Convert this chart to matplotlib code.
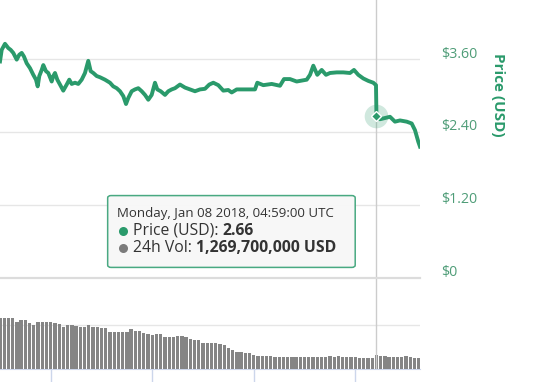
import matplotlib
matplotlib.use("Agg")
import matplotlib.pyplot as plt
from matplotlib.patches import FancyBboxPatch
from matplotlib.lines import Line2D
from matplotlib.transforms import ScaledTranslation

plt.rcParams["font.family"] = ["Open Sans", "DejaVu Sans"]

GREEN = "#2a9a6b"
TICK_GREEN = "#4f9d78"

# hours since Jan 04 2018 12:00 UTC
price_hours = [0.00, 0.40, 1.18, 1.96, 2.53, 3.14, 3.95, 4.56, 5.13, 5.67,
               6.31, 7.09, 7.87, 8.51, 8.91, 9.29, 9.86, 10.24, 10.87, 11.42,
               12.22, 12.60, 13.00, 13.55, 14.18, 14.96, 15.77, 16.38, 16.95, 17.73,
               18.51, 19.31, 20.09, 20.87, 21.44, 22.06, 22.86, 23.64, 24.82, 26.00,
               26.78, 27.59, 28.37, 29.15, 29.79, 30.33, 31.13, 31.91, 32.70, 33.50,
               34.28, 35.06, 35.86, 36.64, 37.19, 37.99, 39.01, 39.79, 40.59, 41.37,
               42.55, 43.74, 44.92, 46.10, 47.28, 48.46, 49.48, 50.43, 51.61, 52.79,
               53.97, 54.78, 55.96, 57.52, 59.10, 60.28, 60.83, 62.25, 64.23, 66.19,
               67.14, 68.56, 70.14, 72.51, 73.29, 74.07, 75.01, 76.05, 77.07, 78.01,
               79.60, 81.16, 82.74, 83.69, 84.70, 85.89, 87.07, 88.25, 88.89, 89.00,
               89.83, 91.02, 92.20, 93.38, 94.56, 96.15, 97.33, 98.11, 98.89, 99.29]
price_usd = [3.56, 3.75, 3.85, 3.78, 3.75, 3.70, 3.59, 3.67, 3.70, 3.64,
             3.53, 3.45, 3.34, 3.26, 3.15, 3.32, 3.42, 3.50, 3.40, 3.37,
             3.23, 3.32, 3.37, 3.26, 3.18, 3.08, 3.18, 3.26, 3.19, 3.21,
             3.19, 3.26, 3.37, 3.57, 3.40, 3.37, 3.32, 3.30, 3.26, 3.21,
             3.15, 3.12, 3.07, 2.99, 2.86, 2.96, 3.07, 3.10, 3.12, 3.07,
             3.01, 2.93, 3.01, 3.21, 3.10, 3.07, 3.01, 3.07, 3.10, 3.12,
             3.18, 3.13, 3.10, 3.07, 3.10, 3.11, 3.18, 3.21, 3.17, 3.08,
             3.09, 3.05, 3.10, 3.10, 3.10, 3.10, 3.21, 3.17, 3.19, 3.16,
             3.27, 3.27, 3.23, 3.26, 3.34, 3.49, 3.34, 3.42, 3.34, 3.37,
             3.38, 3.38, 3.37, 3.42, 3.34, 3.28, 3.24, 3.21, 3.17, 2.66,
             2.61, 2.63, 2.65, 2.57, 2.59, 2.57, 2.54, 2.43, 2.24, 2.16]

# hourly 24h volume, billions USD (bar at each hour 0..99)
vol_hours = list(range(100))
vol_bn = [4.66, 4.66, 4.66, 4.66, 4.30, 4.45, 4.45, 4.18, 4.00, 4.25,
          4.25, 4.25, 4.25, 4.18, 4.09, 3.85, 4.00, 4.00, 3.91, 3.85,
          3.85, 4.00, 3.85, 3.85, 3.70, 3.70, 3.39, 3.39, 3.39, 3.39,
          3.39, 3.61, 3.45, 3.45, 3.25, 3.20, 3.09, 3.18, 3.18, 2.88,
          2.88, 2.88, 3.00, 3.00, 2.88, 2.75, 2.64, 2.64, 2.34, 2.34,
          2.34, 2.34, 2.25, 2.18, 1.88, 1.75, 1.57, 1.57, 1.43, 1.43,
          1.27, 1.18, 1.18, 1.18, 1.15, 1.06, 1.06, 1.06, 1.06, 1.06,
          1.06, 1.06, 1.06, 1.09, 1.12, 1.06, 1.09, 1.12, 1.15, 1.12,
          1.15, 1.12, 1.12, 1.06, 1.06, 1.03, 0.97, 0.97, 0.97, 1.27,
          1.18, 1.18, 1.12, 1.12, 1.12, 1.12, 1.18, 1.12, 1.03, 1.03]

price_ticks = [0, 1.2, 2.4, 3.6]
price_tick_labels = [r"\$0", r"\$1.20", r"\$2.40", r"\$3.60"]
day_ticks = [12, 36, 60, 84]

hover_hour = 89.0
hover_price = 2.66
hover_date = "Monday, Jan 08 2018, 04:59:00 UTC"
hover_vol = "1,269,700,000 USD"

fig = plt.figure(figsize=(5.55, 3.82), dpi=100)
ax = fig.add_axes([0, 0.2723, 0.7568, 0.7277])
axv = fig.add_axes([0, 0.034, 0.7568, 0.22])

# --- price pane ---
ax.plot(price_hours, price_usd, color=GREEN, lw=2.8, solid_joinstyle="round", zorder=3)
ax.set_xlim(0, 99.3)
ax.set_ylim(0, 4.57)
ax.set_yticks(price_ticks)
ax.set_yticklabels(price_tick_labels)
ax.yaxis.tick_right()
ax.tick_params(axis="y", length=0, pad=15, labelsize=10.3, labelcolor=TICK_GREEN)
for lab in ax.get_yticklabels():
    lab.set_transform(lab.get_transform() + ScaledTranslation(0, 0.07, fig.dpi_scale_trans))
ax.set_xticks([])
ax.grid(axis="y", color="#e6e6e6", lw=1)
for s in ["top", "left", "right"]:
    ax.spines[s].set_visible(False)
ax.spines["bottom"].set_color("#dcdcdc")
ax.spines["bottom"].set_linewidth(1.6)
ax.text(1.186, 0.658, "Price (USD)", transform=ax.transAxes, rotation=270,
        ha="center", va="center", fontsize=11, fontweight="bold", color=GREEN)

# crosshair + hover marker
ax.axvline(hover_hour, ymin=-0.03, ymax=1, color="#cccccc", lw=1, clip_on=False, zorder=2)
ax.plot([hover_hour], [hover_price], "o", ms=17, color=GREEN, alpha=0.22, mec="none", zorder=4)
ax.plot([hover_hour], [hover_price], "D", ms=5.5, color=GREEN, mec="white", mew=1, zorder=5)

# --- volume pane ---
axv.bar(vol_hours, vol_bn, width=0.78, color="#858585", zorder=3)
axv.set_xlim(0, 99.3)
axv.set_ylim(0, 7.64)
axv.set_yticks([4])
axv.set_yticklabels([])
axv.tick_params(axis="y", length=0)
axv.grid(axis="y", color="#e6e6e6", lw=1)
axv.set_xticks(day_ticks)
axv.set_xticklabels([])
axv.tick_params(axis="x", length=9, color="#ccd6eb", width=1)
axv.axvline(hover_hour, color="#cccccc", lw=1, zorder=4)
for s in ["top", "left", "right"]:
    axv.spines[s].set_visible(False)
axv.spines["bottom"].set_color("#ccd6eb")

# --- tooltip ---
box = FancyBboxPatch((0.194, 0.300), 0.446, 0.188, transform=fig.transFigure,
                     boxstyle="round,pad=0.0,rounding_size=0.006",
                     facecolor="#f7f7f7", edgecolor="#3fa57b", lw=1.1, alpha=0.95, zorder=10)
fig.patches.append(box)

fig.text(0.2108, 0.4424, hover_date, fontsize=9.5, color="#333333", va="center", zorder=11)
rows = [(0.3953, GREEN, "Price (USD): ", f"{hover_price:.2f}"),
        (0.3508, "#7b7b7b", "24h Vol: ", hover_vol)]
renderer = fig.canvas.get_renderer()
for y, c, label, val in rows:
    fig.add_artist(Line2D([0.2216], [y], marker="o", ms=6.5, color=c, mec="none",
                          transform=fig.transFigure, zorder=11))
    t = fig.text(0.2396, y, label, fontsize=11.3, color="#333333", va="center", zorder=11)
    bb = t.get_window_extent(renderer=renderer)
    x1 = fig.transFigure.inverted().transform((bb.x1, bb.y0))[0]
    fig.text(x1, y, val, fontsize=11.3, fontweight="bold", color="#333333", va="center", zorder=11)

fig.savefig("out.png", dpi=100)
